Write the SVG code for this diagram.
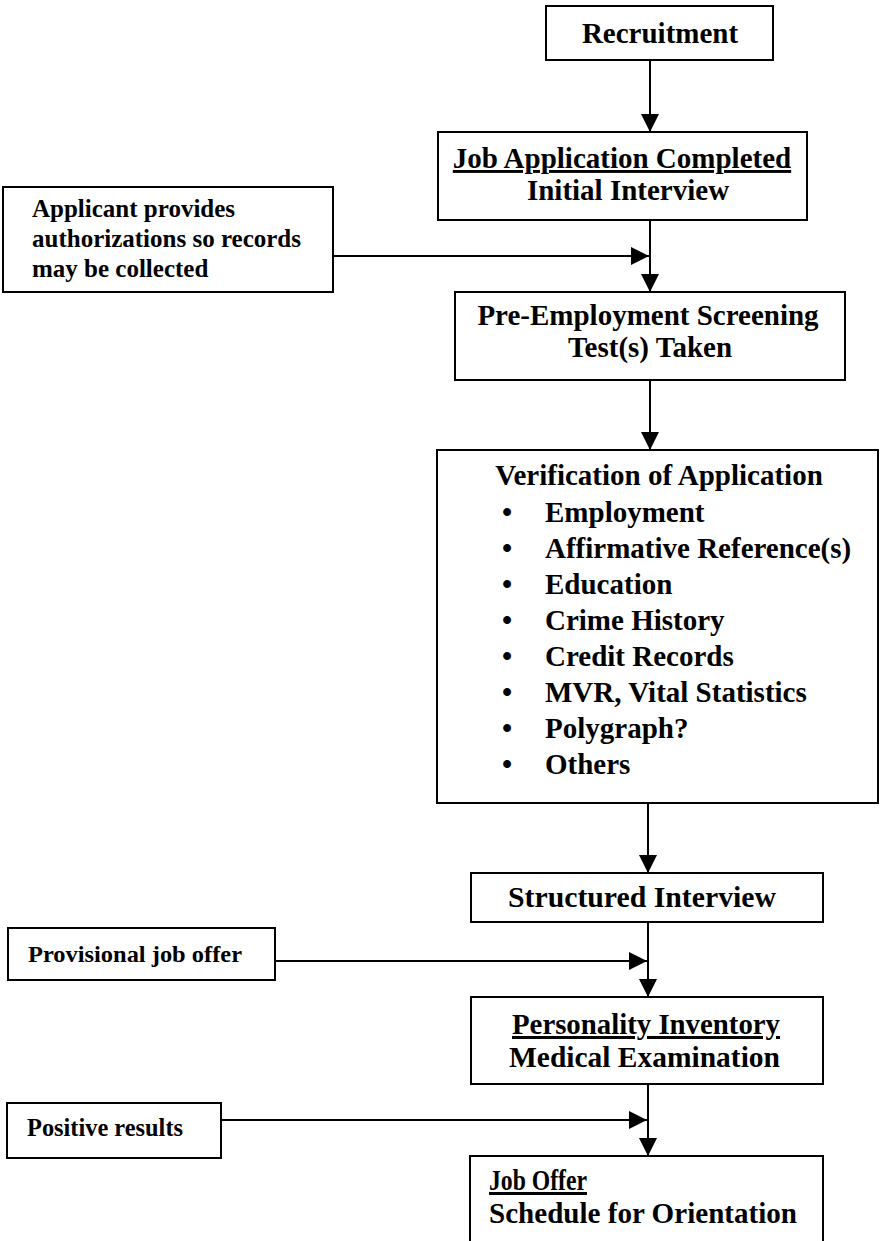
<svg xmlns="http://www.w3.org/2000/svg" width="882" height="1241" viewBox="0 0 882 1241">
  <style>
    .box { fill: #fff; stroke: #000; stroke-width: 2; }
    .t { font-family: "Liberation Serif", "Times New Roman", serif; font-weight: bold; fill: #000; }
    .big { font-size: 29px; }
    .mid { font-size: 25px; }
    .c { text-anchor: middle; }
    .u { text-decoration: underline; }
    .edge { stroke: #000; stroke-width: 2; fill: none; marker-end: url(#arrow); }
  </style>
  <defs>
    <marker id="arrow" markerUnits="userSpaceOnUse" markerWidth="19" markerHeight="18" refX="18" refY="9" orient="auto">
      <path d="M0,0 L18,9 L0,18 z" fill="#000"/>
    </marker>
  </defs>
  <rect width="882" height="1241" fill="#fff"/>

  <!-- connectors -->
  <g id="connectors">
    <line class="edge" x1="650" y1="60" x2="650" y2="132"/>
    <line class="edge" x1="650" y1="220" x2="650" y2="292"/>
    <line class="edge" x1="333" y1="256" x2="649" y2="256"/>
    <line class="edge" x1="650" y1="380" x2="650" y2="450"/>
    <line class="edge" x1="648" y1="803" x2="648" y2="873"/>
    <line class="edge" x1="648" y1="922" x2="648" y2="997"/>
    <line class="edge" x1="275" y1="961" x2="647" y2="961"/>
    <line class="edge" x1="648" y1="1084" x2="648" y2="1156"/>
    <line class="edge" x1="221" y1="1120" x2="647" y2="1120"/>
  </g>

  <g id="recruitment">
    <rect class="box" x="546" y="6" width="227" height="54"/>
    <text class="t big c" x="660" y="43">Recruitment</text>
  </g>

  <g id="job-application">
    <rect class="box" x="438" y="132" width="369" height="88"/>
    <text class="t big c u" x="622" y="168">Job Application Completed</text>
    <text class="t big c" x="628" y="200">Initial Interview</text>
  </g>

  <g id="authorizations">
    <rect class="box" x="3" y="187" width="330" height="105"/>
    <text class="t mid" x="32" y="217">Applicant provides</text>
    <text class="t mid" x="32" y="247">authorizations so records</text>
    <text class="t mid" x="32" y="277">may be collected</text>
  </g>

  <g id="screening">
    <rect class="box" x="455" y="292" width="390" height="88"/>
    <text class="t big c" x="648" y="325">Pre-Employment Screening</text>
    <text class="t big c" x="650" y="357">Test(s) Taken</text>
  </g>

  <g id="verification">
    <rect class="box" x="437" y="450" width="441" height="353"/>
    <text class="t big c" x="659" y="485">Verification of Application</text>
    <g class="t big">
      <text x="507" y="522" class="c">•</text><text x="545" y="522">Employment</text>
      <text x="507" y="558" class="c">•</text><text x="545" y="558">Affirmative Reference(s)</text>
      <text x="507" y="594" class="c">•</text><text x="545" y="594">Education</text>
      <text x="507" y="630" class="c">•</text><text x="545" y="630">Crime History</text>
      <text x="507" y="666" class="c">•</text><text x="545" y="666">Credit Records</text>
      <text x="507" y="702" class="c">•</text><text x="545" y="702">MVR, Vital Statistics</text>
      <text x="507" y="738" class="c">•</text><text x="545" y="738">Polygraph?</text>
      <text x="507" y="774" class="c">•</text><text x="545" y="774">Others</text>
    </g>
  </g>

  <g id="structured-interview">
    <rect class="box" x="471" y="873" width="352" height="49"/>
    <text class="t" x="508" y="907" textLength="268" lengthAdjust="spacingAndGlyphs" style="font-size:30px">Structured Interview</text>
  </g>

  <g id="provisional-offer">
    <rect class="box" x="8" y="928" width="267" height="52"/>
    <text class="t" x="28" y="962" textLength="214" lengthAdjust="spacingAndGlyphs" style="font-size:24px">Provisional job offer</text>
  </g>

  <g id="personality-medical">
    <rect class="box" x="471" y="997" width="352" height="87"/>
    <text class="t u" x="512" y="1034" textLength="268" lengthAdjust="spacingAndGlyphs" style="font-size:30px">Personality Inventory</text>
    <text class="t" x="509" y="1067" textLength="271" lengthAdjust="spacingAndGlyphs" style="font-size:30px">Medical Examination</text>
  </g>

  <g id="positive-results">
    <rect class="box" x="7" y="1103" width="214" height="55"/>
    <text class="t" x="27" y="1136" textLength="156" lengthAdjust="spacingAndGlyphs" style="font-size:25px">Positive results</text>
  </g>

  <g id="job-offer">
    <rect class="box" x="470" y="1156" width="353" height="100"/>
    <text class="t u" x="489" y="1190" textLength="98" lengthAdjust="spacingAndGlyphs" style="font-size:30px">Job Offer</text>
    <text class="t" x="489" y="1223" textLength="308" lengthAdjust="spacingAndGlyphs" style="font-size:30px">Schedule for Orientation</text>
  </g>
</svg>
